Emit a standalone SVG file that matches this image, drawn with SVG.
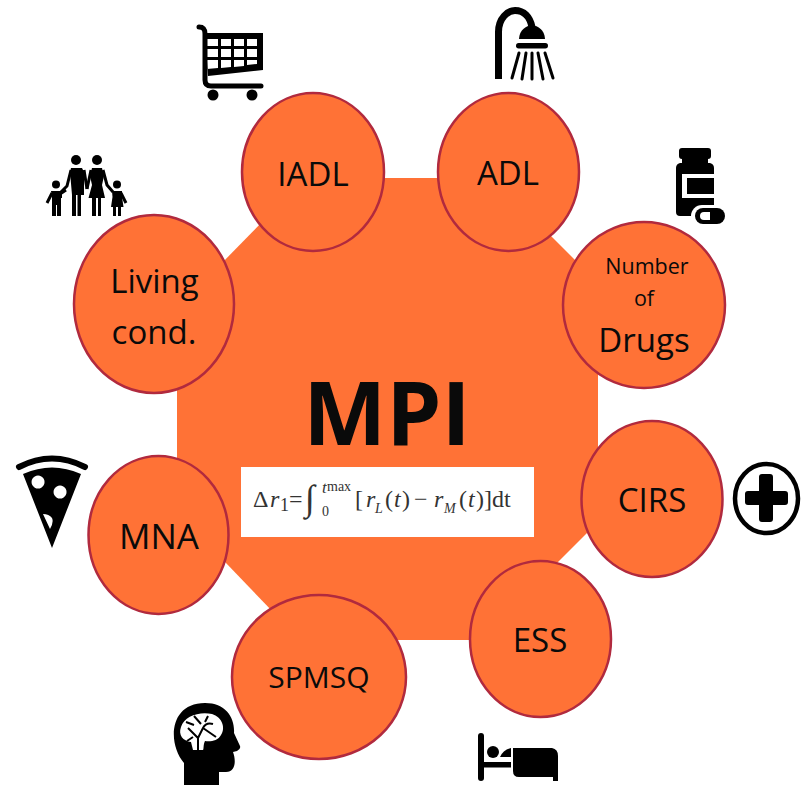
<svg xmlns="http://www.w3.org/2000/svg" width="810" height="805" viewBox="0 0 810 805">
<style>
.n{fill:#ff7236;stroke:#b12a3e;stroke-width:2.5}
.t{font-family:"Open Sans","Liberation Sans",sans-serif;font-size:33px;fill:#0a0a0a;text-anchor:middle}
.f{font-family:"Liberation Serif",serif;fill:#333;font-size:24px}
.i{font-style:italic}
.k{fill:#000}
.l{fill:none;stroke:#000;stroke-linecap:round}
.b{fill:none;stroke:#000;stroke-width:3;stroke-linejoin:round}
</style>
<rect width="810" height="805" fill="#fff"/>
<g id="hub">
<polygon points="305,178 493,178 598,283 598,522 480,640 300,640 177,512 177,309" fill="#ff7236"/>
<text x="387" y="445" style="font-family:'Open Sans','Liberation Sans',sans-serif;font-size:88px;font-weight:700;text-anchor:middle" fill="#0a0a0a">MPI</text>
<rect x="241" y="467" width="293" height="70" fill="#fff"/>
<g class="f">
<text x="253" y="507">Δ</text><text class="i" x="270" y="507">r</text><text x="280" y="511" font-size="18">1</text><text x="289" y="507">=</text>
<text x="305" y="510" font-size="36">∫</text>
<text class="i" x="322" y="493" font-size="17">t</text><text x="327" y="491" font-size="14">max</text>
<text x="322" y="516" font-size="14">0</text>
<text x="355" y="507">[</text>
<text class="i" x="366" y="507">r</text><text class="i" x="375" y="513" font-size="14">L</text>
<text x="385" y="507">(</text><text class="i" x="394" y="507">t</text><text x="402" y="507">)</text>
<text x="414" y="507">−</text>
<text class="i" x="434" y="507">r</text><text class="i" x="444" y="513" font-size="14">M</text>
<text x="459" y="507">(</text><text class="i" x="468" y="507">t</text><text x="476" y="507">)</text>
<text x="484" y="507">]dt</text>
</g>
</g>
<g id="connectors"></g>
<g id="iadl"><ellipse class="n" cx="313" cy="172" rx="71" ry="79"/><text class="t" x="313" y="186">IADL</text></g>
<g id="adl"><ellipse class="n" cx="508.500" cy="172" rx="70.500" ry="79"/><text class="t" x="508" y="185">ADL</text></g>
<g id="drugs"><ellipse class="n" cx="644" cy="305" rx="81" ry="83"/><text class="t" x="647" y="274" style="font-size:21.500px">Number</text><text class="t" x="644" y="306" style="font-size:21.500px">of</text><text class="t" x="644" y="352">Drugs</text></g>
<g id="cirs"><ellipse class="n" cx="652" cy="499" rx="70.500" ry="78"/><text class="t" x="652" y="512">CIRS</text></g>
<g id="ess"><ellipse class="n" cx="540.500" cy="639" rx="70.500" ry="78"/><text class="t" x="540" y="652">ESS</text></g>
<g id="spmsq"><ellipse class="n" cx="319" cy="677" rx="87" ry="82"/><text class="t" x="319" y="688" style="font-size:30px">SPMSQ</text></g>
<g id="mna"><ellipse class="n" cx="158.500" cy="535" rx="70" ry="79"/><text class="t" x="159" y="549" style="font-size:35px">MNA</text></g>
<g id="living"><ellipse class="n" cx="154" cy="304" rx="80" ry="89"/><text class="t" x="154.500" y="293">Living</text><text class="t" x="154" y="344">cond.</text></g>
<g id="icon-cart">
<path class="l" stroke-width="5" d="M199,27 C204,27 205,30 205,34 V80 Q205,86 211,86 H261"/>
<path class="k" fill-rule="evenodd" d="M205,33 H263 V70 L208,76 Z M207,39 V46 H218 V39 Z M221,39 V46 H231 V39 Z M234,39 V46 H244 V39 Z M247,39 V46 H257 V39 Z M207,49 V57 H218 V49 Z M221,49 V57 H231 V49 Z M234,49 V57 H244 V49 Z M247,49 V57 H257 V49 Z M207,60 V69 L218,68 V60 Z M221,60 V68 L231,67 V60 Z M234,60 V67 L244,66 V60 Z M247,60 V65 L257,64 V60 Z"/>
<circle class="k" cx="213" cy="95" r="5.500"/><circle class="k" cx="252" cy="95" r="5.500"/>
</g>
<g id="icon-family">
<circle class="k" cx="76" cy="160" r="5"/><circle class="k" cx="97" cy="160" r="5"/><circle class="k" cx="56" cy="184.500" r="4"/><circle class="k" cx="117" cy="184.500" r="4"/>
<path class="k" d="M71,168 H82 L84,172 V195 H81 V216 H77.500 V195 H76 V216 H72 V195 L70,172 Z"/>
<path class="b" d="M71,170 L67,186 L60,193 M84,170 L87,189"/>
<path class="k" d="M92,168 H102 L104,176 L102,185 L105,198 H101 V216 H98 V198 H96 V216 H92 V198 H88.500 L92,185 L90,176 Z"/>
<path class="b" d="M91,170 L87,189 M103,170 L107,185 L113,192"/>
<path class="k" d="M51,191 H62 V198 H61 V216 H57 V205 H56 V216 H52 V198 Z"/>
<path class="b" d="M52,193 L47,203 M60,194 L66,190"/>
<path class="k" d="M112,191 H122 V197 L123.500,207 H121 V216 H118 V207 H116 V216 H113 V207 H111 L112.500,197 Z"/>
<path class="b" d="M121,193 L126,203"/>
</g>
<g id="icon-shower">
<path d="M498.500,79 V32 C498.500,18 508,10.500 515,10.500 C524,10.500 530,17 532,27" fill="none" stroke="#000" stroke-width="7"/>
<path class="k" d="M519,39 C520,21 544,21 545,39 Z"/>
<rect class="k" x="516" y="43" width="32" height="5.500" rx="2.700"/>
<path class="l" stroke-width="3" d="M519,53 L512,78 M526,53 L522,79 M532,53 V79 M538,53 L543,79 M545,53 L553,78"/>
</g>
<g id="icon-bottle">
<path class="k" d="M682,148 H708 Q711,148 711,151 V156 Q711,159 708,159 V163 H710 Q714,164 714,168 V216 H680 Q676,216 676,212 V168 Q676,164 680,163 H682 V159 Q679,159 679,156 V151 Q679,148 682,148 Z"/>
<path fill="#fff" d="M682,174 H715 V178 H687 V194 H715 V198 H682 Z"/>
<rect x="691" y="205" width="40" height="22" rx="11" fill="#fff"/>
<rect x="695" y="208" width="30" height="16" rx="8" class="k"/>
<path fill="#fff" d="M704,212 H710 V220 H704 A4,4 0 0 1 704,212 Z"/>
</g>
<g id="icon-plus">
<ellipse cx="766.500" cy="498.500" rx="31.500" ry="34.500" fill="none" stroke="#000" stroke-width="4.500"/>
<path class="k" d="M762,474 H770 Q773,474 773,477 V491 H785 Q788,491 788,494 V502 Q788,505 785,505 H773 V519 Q773,522 770,522 H762 Q759,522 759,519 V505 H748 Q745,505 745,502 V494 Q745,491 748,491 H759 V477 Q759,474 762,474 Z"/>
</g>
<g id="icon-pizza">
<path class="l" stroke-width="6" fill="none" d="M19,467 Q52,450 85,467"/>
<path class="k" fill-rule="evenodd" d="M23,474 Q52,461 81,474 L52,548 Z M38,475.500 A6.500,6.500 0 1 0 38.100,475.500 Z M60,485.500 A6.500,6.500 0 1 0 60.100,485.500 Z M43,514 L50,529 Q54,522 52,518 Q49,514 43,514 Z"/>
</g>
<g id="icon-head">
<path class="k" d="M184,785 V763 C168,745 168,703 205,703 C226,703 235,718 234,733 L240,746 Q241,749 237,751 L233,752 C236,760 236,772 226,772 H219 V785 Z"/>
<path fill="#fff" d="M181,727 C184,716 200,711 212,714 C222,717 226,728 221,735 C218,741 210,742 205,741 C203,745 204,749 203,750 H193 L191,742 C183,741 178,735 181,727 Z"/>
<path d="M198,750 V738 L203,728 Q206,722 213,724 M203,728 L216,737 M198,738 L188,728 M194,716 L201,724 M186,722 L194,725 M208,716 L205,722 M193,737 L187,741" fill="none" stroke="#000" stroke-width="2"/>
</g>
<g id="icon-bed">
<rect class="k" x="478" y="733" width="6" height="48" rx="3"/>
<rect class="k" x="483" y="762" width="28" height="5.500"/>
<circle class="k" cx="493" cy="752" r="6"/>
<path class="k" d="M500,757 Q503,750 511,748 V757 Z"/>
<path class="k" d="M513,748 H552 Q558,749 558,756 V781 H553 V777 H519 Q513,777 513,771 Z"/>
</g>
</svg>
